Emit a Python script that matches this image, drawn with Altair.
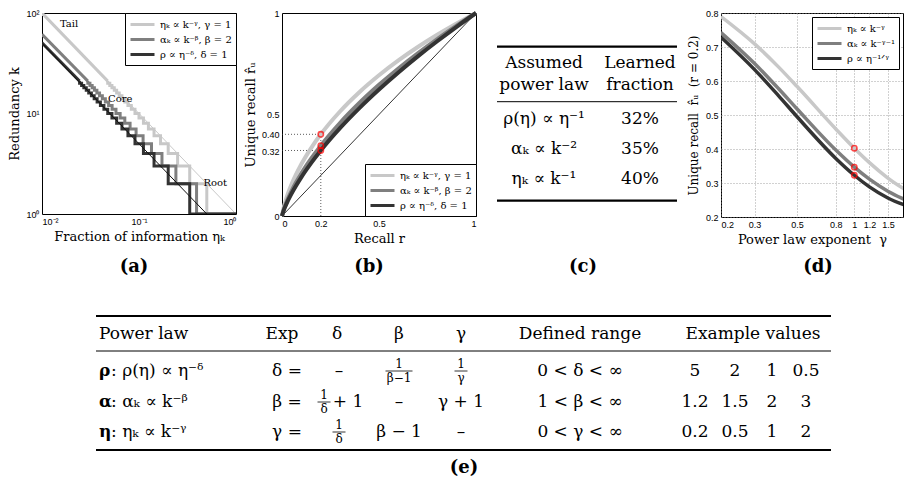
import altair as alt
import pandas as pd

# ---------------- series names and colours ----------------
SERIES_ABC = ["ηₖ ∝ k⁻ᵞ, γ = 1", "αₖ ∝ k⁻ᵝ, β = 2", "ρ ∝ η⁻ᵟ, δ = 1"]
SERIES_D = ["ηₖ ∝ k⁻ᵞ", "αₖ ∝ k⁻ᵞ⁻¹", "ρ ∝ η⁻¹ᐟᵞ"]
GRAYS = ["#c8c8c8", "#7f7f7f", "#333333"]

# ---------------- (a) redundancy k vs fraction of information ----------------
A_K = [1, 2, 3, 4, 5, 6, 7, 8, 9, 10, 11, 12, 13, 14, 15, 16, 17, 18, 19, 20, 21]
A_ETA_LIGHT = [1.0, 0.5, 0.3333, 0.25, 0.2, 0.1667, 0.1429, 0.125, 0.1111, 0.1, 0.0909,
               0.0833, 0.0769, 0.0714, 0.0667, 0.0625, 0.0588, 0.0556, 0.0526, 0.05, 0.0476]
A_ETA_MED = [1.0, 0.3921, 0.2401, 0.1725, 0.1345, 0.1102, 0.0933, 0.0809, 0.0714, 0.0639, 0.0579,
             0.0528, 0.0486, 0.0450, 0.0419, 0.0392, 0.0368, 0.0347, 0.0329, 0.0312, 0.0297]
A_ETA_DARK = [1.0, 0.3333, 0.2, 0.1429, 0.1111, 0.0909, 0.0769, 0.0667, 0.0588, 0.0526, 0.0476,
              0.0435, 0.04, 0.0370, 0.0345, 0.0323, 0.0303, 0.0286, 0.0270, 0.0256, 0.0244]
A_TAIL_ETA = [0.01, 0.01, 0.01]
A_TAIL_K = [100, 61.3, 50.5]
A_FIT_LIGHT_ETA = [0.01, 1.0]
A_FIT_LIGHT_K = [100, 1]
A_FIT_DARK_ETA = [0.01, 0.5]
A_FIT_DARK_K = [50, 1]
A_NOTE_TEXT = ["Tail", "Core", "Root"]
A_NOTE_ETA = [0.019, 0.064, 0.61]
A_NOTE_K = [78, 13.9, 2.03]

# ---------------- (b) unique recall vs recall ----------------
B_R = [0, 0.01, 0.02, 0.05, 0.1, 0.15, 0.2, 0.3, 0.4, 0.5, 0.6, 0.7, 0.8, 0.9, 1.0]
B_LIGHT = [0, 0.0465, 0.0798, 0.1577, 0.2558, 0.3348, 0.4024, 0.5160, 0.6109, 0.6931, 0.7662, 0.8323, 0.8926, 0.9482, 1.0]
B_MED = [0, 0.0342, 0.0603, 0.1242, 0.2099, 0.2823, 0.3466, 0.4593, 0.5577, 0.6460, 0.7269, 0.8017, 0.8717, 0.9376, 1.0]
B_DARK = [0, 0.0301, 0.0534, 0.1118, 0.1917, 0.2606, 0.3228, 0.4338, 0.5328, 0.6232, 0.7073, 0.7862, 0.8608, 0.9320, 1.0]
B_MARK_R = 0.2
B_MARK_U = [0.4024, 0.3466, 0.3228]
B_DIAG = [0, 1]
B_XTICKS = [0, 0.2, 0.5, 1]
B_YTICKS = [0, 0.32, 0.4, 0.5, 1]

# ---------------- (c) learned fraction table ----------------
C_HEAD = [["Assumed", "power law"], ["Learned", "fraction"]]
C_LAW = ["ρ(η) ∝ η⁻¹", "αₖ ∝ k⁻²", "ηₖ ∝ k⁻¹"]
C_LEARNED = ["32%", "35%", "40%"]

# ---------------- (d) unique recall vs exponent ----------------
D_GAMMA = [0.2, 0.3, 0.4, 0.5, 0.8, 1.0, 1.2, 1.5, 2.0]
D_LIGHT = [0.7896, 0.7092, 0.6416, 0.5844, 0.4590, 0.4024, 0.3600, 0.3146, 0.2687]
D_MED = [0.7425, 0.6513, 0.5778, 0.5183, 0.3968, 0.3466, 0.3112, 0.2757, 0.2425]
D_DARK = [0.7289, 0.6335, 0.5570, 0.4955, 0.3723, 0.3228, 0.2887, 0.2560, 0.2274]
D_MARK_GAMMA = 1.0
D_MARK_U = [0.4024, 0.3466, 0.3228]
D_XTICKS = [0.2, 0.3, 0.5, 0.8, 1, 1.2, 1.5]
D_YTICKS = [0.2, 0.3, 0.4, 0.5, 0.6, 0.7, 0.8]

# ---------------- (e) conversion table ----------------
E_HEADERS = ["Power law", "Exp", "δ", "β", "γ", "Defined range", "Example values"]
E_SYMBOLS = ["ρ", "α", "η"]
E_LAWS = [": ρ(η) ∝ η⁻ᵟ", ": αₖ ∝ k⁻ᵝ", ": ηₖ ∝ k⁻ᵞ"]
E_EXPS = ["δ =", "β =", "γ ="]
E_CONVERT = [["–", "1/β−1", "1/γ"],
             ["1/δ + 1", "–", "γ + 1"],
             ["1/δ", "β − 1", "–"]]
E_RANGES = ["0 < δ < ∞", "1 < β < ∞", "0 < γ < ∞"]
E_EXAMPLES = [["5", "2", "1", "0.5"], ["1.2", "1.5", "2", "3"], ["0.2", "0.5", "1", "2"]]
PANEL_LABELS = ["(a)", "(b)", "(c)", "(d)", "(e)"]

# ---------------- layout (pixels) ----------------
W_A, H_A = 194, 201
W_B, H_B = 194, 203
W_C, H_C = 153, 203
W_D, H_D = 182, 204
W_E, H_E = 800, 232
C_COL_X = [22, 118]
C_HEAD_Y = [50, 72]
C_ROW_Y = [106, 136, 166]
C_RULE_X = (-25, 155)
C_RULE_Y = [33.7, 88.7, 187.7]
C_RULE_W = [2.2, 1.0, 2.2]
E_RULE_X = (54, 789)
E_RULE_Y = [66, 101, 200]
E_RULE_W = [2.2, 1.0, 2.2]
E_HEAD_Y = 84
E_ROW_Y = [121, 152, 182]
E_HEAD_X = [57, 240, 295, 357, 419, 538, 711]
E_LAW_X = 69
E_EXP_X = 245
E_CONV_X = [297, 357, 419]
E_RANGE_X = 538
E_EX_X = [653, 693, 730, 764]
PANEL_XY = [(92, 17), (327, 17), (541, 17), (776, 17), (422, 218)]

SERIF = "DejaVu Serif"
FS = 17

# legend line sample: a custom path so rows stay compact while the line is long
LEG = dict(title=None, padding=4, strokeColor="black", fillColor="white",
           symbolType="M-1,0H3", symbolSize=144, symbolStrokeWidth=3,
           labelFont=SERIF, labelFontSize=10, rowPadding=1, labelLimit=300,
           labelOffset=16)


def color_enc(names, legend):
    return alt.Color("series:N", scale=alt.Scale(domain=names, range=GRAYS), legend=legend)


# ================= panel (a) =================
x_a = alt.X("eta:Q", scale=alt.Scale(type="log", domain=[0.01, 1], nice=False),
            axis=alt.Axis(values=[0.01, 0.1, 1],
                          labelExpr="datum.value < 0.05 ? '10⁻²' : (datum.value < 0.5 ? '10⁻¹' : '10⁰')",
                          title="Fraction of information ηₖ", titlePadding=4))
y_a = alt.Y("k:Q", scale=alt.Scale(type="log", domain=[1, 100], nice=False),
            axis=alt.Axis(values=[1, 10, 100],
                          labelExpr="datum.value < 5 ? '10⁰' : (datum.value < 50 ? '10¹' : '10²')",
                          title="Redundancy k", titlePadding=4))
legend_a = alt.Legend(orient="top-right", offset=0, **LEG)

layers_a = [
    alt.Chart(pd.DataFrame({"eta": A_FIT_LIGHT_ETA, "k": A_FIT_LIGHT_K}))
    .mark_line(color=GRAYS[0], strokeWidth=1, clip=True).encode(x=x_a, y=y_a)
]
for idx, (name, etas) in enumerate(zip(SERIES_ABC, [A_ETA_LIGHT, A_ETA_MED, A_ETA_DARK])):
    steps = pd.DataFrame({"series": name, "eta": etas, "k": A_K, "i": list(range(len(A_K)))})
    tail = pd.DataFrame({"series": name, "eta": [etas[-1], A_TAIL_ETA[idx]],
                         "k": [A_K[-1], A_TAIL_K[idx]], "i": [0, 1]})
    layers_a.append(alt.Chart(steps).mark_line(interpolate="step-after", strokeWidth=3, clip=True)
                    .encode(x=x_a, y=y_a, color=color_enc(SERIES_ABC, legend_a), order="i:Q"))
    layers_a.append(alt.Chart(tail).mark_line(strokeWidth=3, clip=True)
                    .encode(x=x_a, y=y_a, color=color_enc(SERIES_ABC, legend_a), order="i:Q"))
layers_a.append(alt.Chart(pd.DataFrame({"eta": A_FIT_DARK_ETA, "k": A_FIT_DARK_K}))
                .mark_line(color="#111111", strokeWidth=1, clip=True).encode(x=x_a, y=y_a))
layers_a.append(alt.Chart(pd.DataFrame({"eta": A_NOTE_ETA, "k": A_NOTE_K, "t": A_NOTE_TEXT}))
                .mark_text(font=SERIF, fontSize=10, color="black")
                .encode(x=x_a, y=y_a, text="t:N"))
panel_a = alt.layer(*layers_a).properties(width=W_A, height=H_A)

# ================= panel (b) =================
x_b = alt.X("r:Q", scale=alt.Scale(domain=[0, 1], nice=False),
            axis=alt.Axis(values=B_XTICKS, labelExpr="format(datum.value, '~g')",
                          title="Recall r", titlePadding=4))
y_b = alt.Y("u:Q", scale=alt.Scale(domain=[0, 1], nice=False),
            axis=alt.Axis(values=B_YTICKS,
                          labelExpr="datum.value == 0.4 ? '0.40' : format(datum.value, '~g')",
                          title="Unique recall r̂ᵤ", titlePadding=4))
legend_b = alt.Legend(orient="bottom-right", offset=0, **LEG)

guides_b = pd.DataFrame({
    "r": [B_MARK_R, 0, 0], "r2": [B_MARK_R, B_MARK_R, B_MARK_R],
    "u": [0, B_MARK_U[0], B_MARK_U[2]], "u2": [B_MARK_U[0], B_MARK_U[0], B_MARK_U[2]],
})
layers_b = [
    alt.Chart(pd.DataFrame({"r": B_DIAG, "u": B_DIAG}))
    .mark_line(color="black", strokeWidth=0.8).encode(x=x_b, y=y_b),
    alt.Chart(guides_b).mark_rule(color="#333333", strokeWidth=0.8, strokeDash=[1, 2])
    .encode(x=x_b, x2="r2:Q", y=y_b, y2="u2:Q"),
]
for name, us in zip(SERIES_ABC, [B_LIGHT, B_MED, B_DARK]):
    df = pd.DataFrame({"series": name, "r": B_R, "u": us, "i": list(range(len(B_R)))})
    layers_b.append(alt.Chart(df).mark_line(strokeWidth=4, interpolate="monotone")
                    .encode(x=x_b, y=y_b, color=color_enc(SERIES_ABC, legend_b), order="i:Q"))
layers_b.append(alt.Chart(pd.DataFrame({"r": [B_MARK_R] * 3, "u": B_MARK_U}))
                .mark_point(shape="circle", filled=False, color="#ff0000", size=28, strokeWidth=1.6)
                .encode(x=x_b, y=y_b))
panel_b = alt.layer(*layers_b).properties(width=W_B, height=H_B)

# ================= panel (d) =================
GRID = dict(grid=True, gridDash=[1, 2], gridColor="#8c8c8c", gridWidth=0.8)
x_d = alt.X("g:Q", scale=alt.Scale(type="log", domain=[0.2, 1.8], nice=False),
            axis=alt.Axis(values=D_XTICKS, labelExpr="format(datum.value, '~g')",
                          title="Power law exponent\u00a0\u00a0γ", titlePadding=4, **GRID))
y_d = alt.Y("u:Q", scale=alt.Scale(domain=[0.2, 0.8], nice=False),
            axis=alt.Axis(values=D_YTICKS, format=".1f",
                          title="Unique recall\u00a0\u00a0r̂ᵤ\u00a0\u00a0(r = 0.2)",
                          titlePadding=5, titleFontSize=12, **GRID))
legend_d = alt.Legend(orient="top-right", offset=4, **LEG)
layers_d = []
for name, us in zip(SERIES_D, [D_LIGHT, D_MED, D_DARK]):
    df = pd.DataFrame({"series": name, "g": D_GAMMA, "u": us, "i": list(range(len(D_GAMMA)))})
    layers_d.append(alt.Chart(df).mark_line(strokeWidth=3.5, interpolate="monotone", clip=True)
                    .encode(x=x_d, y=y_d, color=color_enc(SERIES_D, legend_d), order="i:Q"))
layers_d.append(alt.Chart(pd.DataFrame({"g": [D_MARK_GAMMA] * 3, "u": D_MARK_U}))
                .mark_point(shape="circle", filled=False, color="#ff0000", size=28, strokeWidth=1.6)
                .encode(x=x_d, y=y_d))
panel_d = alt.layer(*layers_d).properties(width=W_D, height=H_D)


# ================= table helpers =================
def tbl_xy(w, h):
    x = alt.X("x:Q", scale=alt.Scale(domain=[0, w], nice=False, zero=False), axis=None)
    y = alt.Y("y:Q", scale=alt.Scale(domain=[0, h], nice=False, zero=False, reverse=True), axis=None)
    return x, y


def text_layer(rows, x, y, align="center", weight="normal"):
    return (alt.Chart(pd.DataFrame(rows))
            .mark_text(align=align, baseline="middle", font=SERIF, fontWeight=weight, color="black")
            .encode(x=x, y=y, text="text:N", size=alt.Size("size:Q", scale=None)))


def rule_layer(rows, x, y):
    return (alt.Chart(pd.DataFrame(rows)).mark_rule(color="black")
            .encode(x=x, x2="x2:Q", y=y, size=alt.Size("size:Q", scale=None)))


# ================= panel (c) =================
xc, yc = tbl_xy(W_C, H_C)
c_text = []
for col, lines in enumerate(C_HEAD):
    for line, t in enumerate(lines):
        c_text.append({"x": C_COL_X[col], "y": C_HEAD_Y[line], "text": t, "size": FS})
for row, (law, frac) in enumerate(zip(C_LAW, C_LEARNED)):
    c_text.append({"x": C_COL_X[0], "y": C_ROW_Y[row], "text": law, "size": FS})
    c_text.append({"x": C_COL_X[1], "y": C_ROW_Y[row], "text": frac, "size": FS})
c_rules = [{"x": C_RULE_X[0], "x2": C_RULE_X[1], "y": yy, "size": ww}
           for yy, ww in zip(C_RULE_Y, C_RULE_W)]
panel_c = alt.layer(rule_layer(c_rules, xc, yc), text_layer(c_text, xc, yc)).properties(
    width=W_C, height=H_C, view=alt.ViewBackground(stroke="transparent"))

# ================= panel (e) =================
xe, ye = tbl_xy(W_E, H_E)
e_center, e_left, e_bold, e_rules, e_labels = [], [], [], [], []
for yy, ww in zip(E_RULE_Y, E_RULE_W):
    e_rules.append({"x": E_RULE_X[0], "x2": E_RULE_X[1], "y": yy, "size": ww})
e_left.append({"x": E_HEAD_X[0], "y": E_HEAD_Y, "text": E_HEADERS[0], "size": FS})
for hx, h in zip(E_HEAD_X[1:], E_HEADERS[1:]):
    e_center.append({"x": hx, "y": E_HEAD_Y, "text": h, "size": FS})
for row in range(3):
    ry = E_ROW_Y[row]
    e_bold.append({"x": E_HEAD_X[0], "y": ry, "text": E_SYMBOLS[row], "size": FS})
    e_left.append({"x": E_LAW_X, "y": ry, "text": E_LAWS[row], "size": FS})
    e_center.append({"x": E_EXP_X, "y": ry, "text": E_EXPS[row], "size": FS})
    e_center.append({"x": E_RANGE_X, "y": ry, "text": E_RANGES[row], "size": FS})
    for ex, v in zip(E_EX_X, E_EXAMPLES[row]):
        e_center.append({"x": ex, "y": ry, "text": v, "size": FS})
    for cx, cell in zip(E_CONV_X, E_CONVERT[row]):
        if cell.startswith("1/"):
            body = cell[2:].split(" ", 1)
            den = body[0]
            fx = cx - 15 if len(body) > 1 else cx
            half = 3 + 3.5 * len(den)
            e_center.append({"x": fx, "y": ry - 7, "text": "1", "size": 12})
            e_center.append({"x": fx, "y": ry + 7, "text": den, "size": 12})
            e_rules.append({"x": fx - half, "x2": fx + half, "y": ry, "size": 0.8})
            if len(body) > 1:
                e_center.append({"x": cx + 9, "y": ry, "text": body[1], "size": FS})
        else:
            e_center.append({"x": cx, "y": ry, "text": cell, "size": FS})
for (px, py), lab in zip(PANEL_XY, PANEL_LABELS):
    e_labels.append({"x": px, "y": py, "text": lab, "size": 18})

panel_e = alt.layer(
    rule_layer(e_rules, xe, ye),
    text_layer(e_center, xe, ye),
    text_layer(e_left, xe, ye, align="left"),
    text_layer(e_bold, xe, ye, align="left", weight="bold"),
    text_layer(e_labels, xe, ye, weight="bold"),
).properties(width=W_E, height=H_E, view=alt.ViewBackground(stroke="transparent"))

# ================= assemble =================
top = (alt.hconcat(panel_a, panel_b, panel_c, panel_d, spacing=46, bounds="flush")
       .resolve_scale(color="independent").resolve_legend(color="independent"))

chart = (alt.vconcat(top, panel_e, spacing=2)
         .resolve_scale(color="independent").resolve_legend(color="independent")
         .properties(padding={"left": 0, "top": -4, "right": 0, "bottom": 0})
         .configure_view(stroke="black", strokeWidth=1)
         .configure_axis(labelFont="Liberation Sans", labelFontSize=9, labelColor="black",
                         titleFont=SERIF, titleFontSize=13, titleFontWeight="normal",
                         titleColor="black", ticks=False, tickSize=0, domain=False,
                         grid=False, labelPadding=3))

chart.save("out.html", embed_options={"renderer": "svg", "actions": False})
